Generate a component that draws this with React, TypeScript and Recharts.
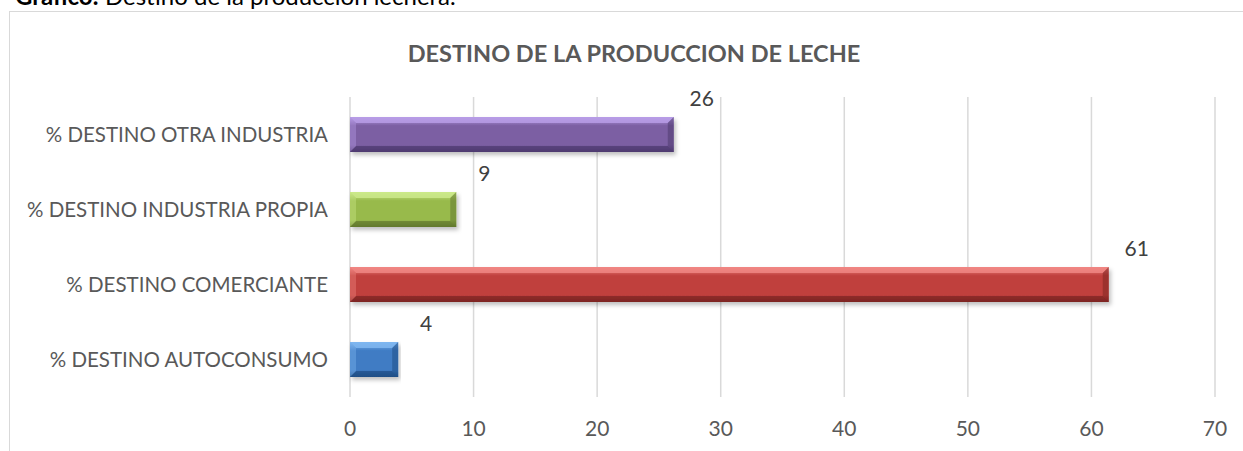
import React from "react";
import { BarChart, Bar, XAxis, YAxis, CartesianGrid, Cell, LabelList } from "recharts";

const categories = [
  "% DESTINO OTRA INDUSTRIA",
  "% DESTINO INDUSTRIA PROPIA",
  "% DESTINO COMERCIANTE",
  "% DESTINO AUTOCONSUMO",
];
const values = [26.2, 8.6, 61.4, 3.9];
const xTicks = [0, 10, 20, 30, 40, 50, 60, 70];

const data = categories.map((c, i) => ({ name: c, value: values[i] }));

const palette = [
  { base: "#7c5fa3", light: "#b79ce6", dark: "#4f3a70" },
  { base: "#98ba4c", light: "#cbe98a", dark: "#62792d" },
  { base: "#c0403d", light: "#f08683", dark: "#7e2523" },
  { base: "#3f7cc4", light: "#7fb6f0", dark: "#1f4f86" },
];

const FONT = "Lato, 'Open Sans', sans-serif";

const BevelBar = (props: any) => {
  const { x, y, width, height, index } = props;
  if (width <= 0) return null;
  const p = palette[index % palette.length];
  const b = Math.min(6, width / 2);
  const id = `g${index}`;
  return (
    <g filter="url(#shadow)">
      <rect x={x} y={y} width={width} height={height} fill={`url(#${id})`} />
      <polygon
        points={`${x},${y} ${x + width},${y} ${x + width - b},${y + b} ${x + b},${y + b}`}
        fill={p.light}
        opacity={0.85}
      />
      <polygon
        points={`${x},${y + height} ${x + width},${y + height} ${x + width - b},${y + height - b} ${x + b},${y + height - b}`}
        fill={p.dark}
        opacity={0.7}
      />
      <polygon
        points={`${x + width},${y} ${x + width},${y + height} ${x + width - b},${y + height - b} ${x + width - b},${y + b}`}
        fill={p.dark}
        opacity={0.55}
      />
      <polygon
        points={`${x},${y} ${x},${y + height} ${x + b},${y + height - b} ${x + b},${y + b}`}
        fill={p.light}
        opacity={0.4}
      />
    </g>
  );
};

const ValueLabel = (props: any) => {
  const { x, y, width, value } = props;
  return (
    <text
      x={x + width + 28}
      y={y - 20}
      textAnchor="middle"
      dominantBaseline="central"
      fill="#404040"
      fontSize={21}
      fontFamily={FONT}
    >
      {Math.round(value)}
    </text>
  );
};

export default function App() {
  return (
    <div style={{ position: "absolute", left: 0, top: 0, width: 1243, height: 451, overflow: "hidden", background: "#fff" }}>
      <div
        style={{
          position: "absolute",
          left: 15,
          top: -19,
          fontFamily: FONT,
          fontSize: 24,
          color: "#000",
          whiteSpace: "nowrap",
          lineHeight: "30px",
        }}
      >
        <b>Gráfico:</b> Destino de la producción lechera.
      </div>
      <div
        style={{
          position: "absolute",
          left: 9,
          top: 11,
          width: 1250,
          height: 460,
          border: "1px solid #d9d9d9",
          boxSizing: "border-box",
        }}
      />
      <div
        style={{
          position: "absolute",
          left: 0,
          top: 38,
          width: 1268,
          textAlign: "center",
          fontFamily: FONT,
          fontWeight: "bold",
          fontSize: 23.5,
          color: "#595959",
          lineHeight: "30px",
        }}
      >
        DESTINO DE LA PRODUCCION DE LECHE
      </div>
      <div style={{ position: "absolute", left: 0, top: 0 }}>
        <BarChart
          width={1243}
          height={451}
          data={data}
          layout="vertical"
          margin={{ top: 97, right: 28, bottom: 24, left: 10 }}
          barCategoryGap={20}
        >
          <defs>
            {palette.map((p, i) => (
              <linearGradient key={i} id={`g${i}`} x1="0" y1="0" x2="0" y2="1">
                <stop offset="0%" stopColor={p.light} />
                <stop offset="25%" stopColor={p.base} />
                <stop offset="80%" stopColor={p.base} />
                <stop offset="100%" stopColor={p.dark} />
              </linearGradient>
            ))}
            <filter id="shadow" x="-5%" y="-20%" width="110%" height="160%">
              <feDropShadow dx="2" dy="3" stdDeviation="2" floodColor="#000" floodOpacity="0.25" />
            </filter>
          </defs>
          <CartesianGrid horizontal={false} vertical={true} stroke="#d9d9d9" strokeWidth={1.5} />
          <XAxis
            type="number"
            domain={[0, 70]}
            ticks={xTicks}
            axisLine={false}
            tickLine={false}
            height={30}
            tick={{ fill: "#595959", fontSize: 21, fontFamily: FONT }}
            tickMargin={18}
          />
          <YAxis
            type="category"
            dataKey="name"
            width={340}
            axisLine={false}
            tickLine={false}
            tick={{ fill: "#595959", fontSize: 20.5, fontFamily: FONT }}
            tickMargin={16}
          />
          <Bar dataKey="value" isAnimationActive={false} shape={<BevelBar />}>
            {data.map((d, i) => (
              <Cell key={i} fill={palette[i].base} />
            ))}
            <LabelList dataKey="value" content={<ValueLabel />} />
          </Bar>
        </BarChart>
      </div>
    </div>
  );
}
